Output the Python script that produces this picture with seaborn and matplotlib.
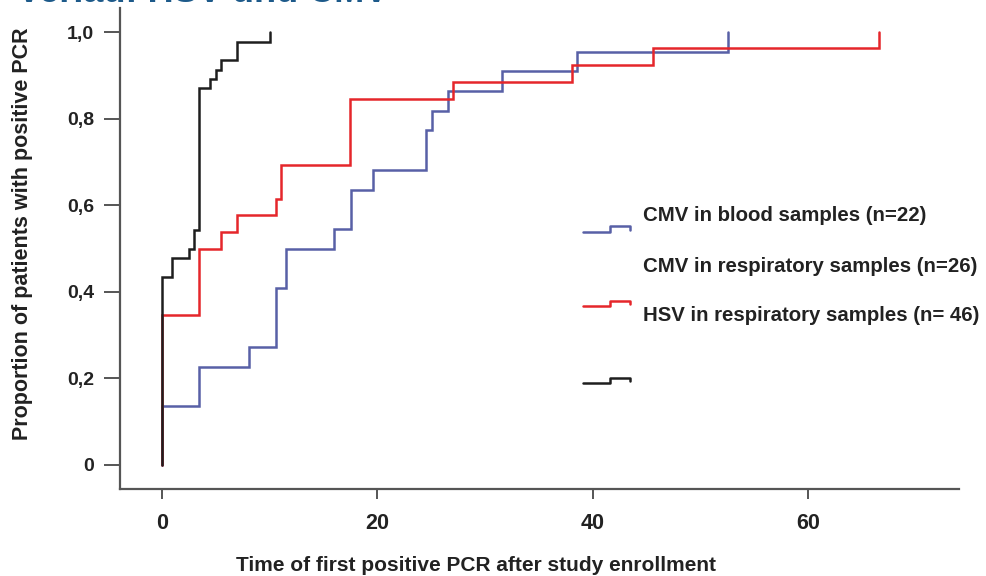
import matplotlib
matplotlib.use("Agg")
import matplotlib.pyplot as plt
import seaborn as sns
import pandas as pd

# Cumulative proportion of patients with a first positive PCR (step curves)
blood_cmv_days = [0, 0, 3.46, 8.04, 10.58, 11.5, 16.0, 17.55, 19.56, 24.54, 25.07, 26.55, 31.57, 38.53, 52.55]
blood_cmv_prop = [0, 0.136, 0.227, 0.273, 0.409, 0.500, 0.545, 0.636, 0.682, 0.773, 0.818, 0.864, 0.909, 0.955, 1.0]

resp_red_days = [0, 0, 3.46, 5.47, 6.96, 10.58, 11.08, 17.48, 27.0, 38.07, 45.55, 66.6]
resp_red_prop = [0, 0.346, 0.500, 0.538, 0.577, 0.615, 0.692, 0.846, 0.885, 0.923, 0.962, 1.0]

resp_black_days = [0, 0, 0.93, 2.47, 2.93, 3.46, 4.49, 5.01, 5.47, 6.96, 10.06]
resp_black_prop = [0, 0.435, 0.478, 0.500, 0.543, 0.870, 0.891, 0.913, 0.935, 0.978, 1.0]

legend_labels = ["CMV in blood samples (n=22)",
                 "CMV in respiratory samples (n=26)",
                 "HSV in respiratory samples (n= 46)"]

x_ticks = [0, 20, 40, 60]
x_tick_labels = ["0", "20", "40", "60"]
y_ticks = [0, 0.2, 0.4, 0.6, 0.8, 1.0]
y_tick_labels = ["0", "0,2", "0,4", "0,6", "0,8", "1,0"]

title_text = "Verlauf HSV und CMV"
x_label = "Time of first positive PCR after study enrollment"
y_label = "Proportion of patients with positive PCR"

BLUE = "#5860a6"
RED = "#e5262b"
BLACK = "#1e1e1e"
AXIS = "#555555"

sns.set_theme(style="white")
narrow = ["Liberation Sans Narrow", "Liberation Sans", "DejaVu Sans"]
plt.rcParams["font.family"] = ["Liberation Sans", "DejaVu Sans"]

fig = plt.figure(figsize=(9.87, 5.76), dpi=100)
ax = fig.add_axes([120 / 987, 1 - 489 / 576, (959 - 120) / 987, (489 - 8) / 576])

frames = {
    "blue": pd.DataFrame({"days": blood_cmv_days, "prop": blood_cmv_prop}),
    "red": pd.DataFrame({"days": resp_red_days, "prop": resp_red_prop}),
    "black": pd.DataFrame({"days": resp_black_days, "prop": resp_black_prop}),
}
for key, color in (("blue", BLUE), ("red", RED), ("black", BLACK)):
    sns.lineplot(data=frames[key], x="days", y="prop", ax=ax, color=color,
                 estimator=None, sort=False, drawstyle="steps-post",
                 linewidth=1.8, solid_joinstyle="miter")

ax.set_xlim(-3.9, 74.0)
ax.set_ylim(-0.0555, 1.0555)

ax.set_xticks(x_ticks)
ax.set_xticklabels(x_tick_labels)
ax.set_yticks(y_ticks)
ax.set_yticklabels(y_tick_labels)

for side in ("top", "right"):
    ax.spines[side].set_visible(False)
for side in ("left", "bottom"):
    ax.spines[side].set_color(AXIS)
    ax.spines[side].set_linewidth(1.6)

ax.tick_params(axis="y", which="major", direction="out", length=11.5, width=1.4,
               color=AXIS, pad=7, left=True)
ax.tick_params(axis="x", which="major", direction="out", length=7, width=1.4,
               color=AXIS, pad=10, bottom=True)
for lab in ax.get_xticklabels():
    lab.set_fontfamily(narrow)
    lab.set_fontsize(15.5)
    lab.set_fontweight("bold")
    lab.set_color("#222222")
for lab in ax.get_yticklabels():
    lab.set_fontfamily(narrow)
    lab.set_fontsize(14)
    lab.set_fontweight("bold")
    lab.set_color("#222222")

ax.set_xlabel(x_label, family=narrow, fontsize=15, fontweight="bold",
              color="#222222", labelpad=0)
ax.xaxis.set_label_coords((476 - 120) / 839, (489 - 556) / 481)
ax.set_ylabel(y_label, fontsize=15.5, fontweight="bold", color="#222222")
ax.yaxis.set_label_coords((33 - 120) / 839, (489 - 234) / 481)

# Legend: small step glyphs drawn in axes fraction, labels beside them
def glyph(y_low, y_high, y_end, color):
    ax.plot([0.552, 0.584, 0.584, 0.608, 0.608],
            [y_low, y_low, y_high, y_high, y_end],
            transform=ax.transAxes, color=color, linewidth=1.8, clip_on=False)

glyph(0.534, 0.546, 0.538, BLUE)
glyph(0.380, 0.391, 0.384, RED)
glyph(0.220, 0.231, 0.224, BLACK)

for label, yf in zip(legend_labels, (0.5696, 0.4636, 0.3597)):
    ax.text(0.6234, yf, label, transform=ax.transAxes, ha="left", va="center",
            family=narrow, fontsize=14.7, fontweight="bold", color="#222222")

# Slide heading running off the top edge
fig.text(17 / 987, 1 - 1.5 / 576, title_text, ha="left", va="baseline",
         fontsize=26, fontweight="bold", color="#1d5a8a")

fig.savefig("out.png", dpi=100, facecolor="white")
